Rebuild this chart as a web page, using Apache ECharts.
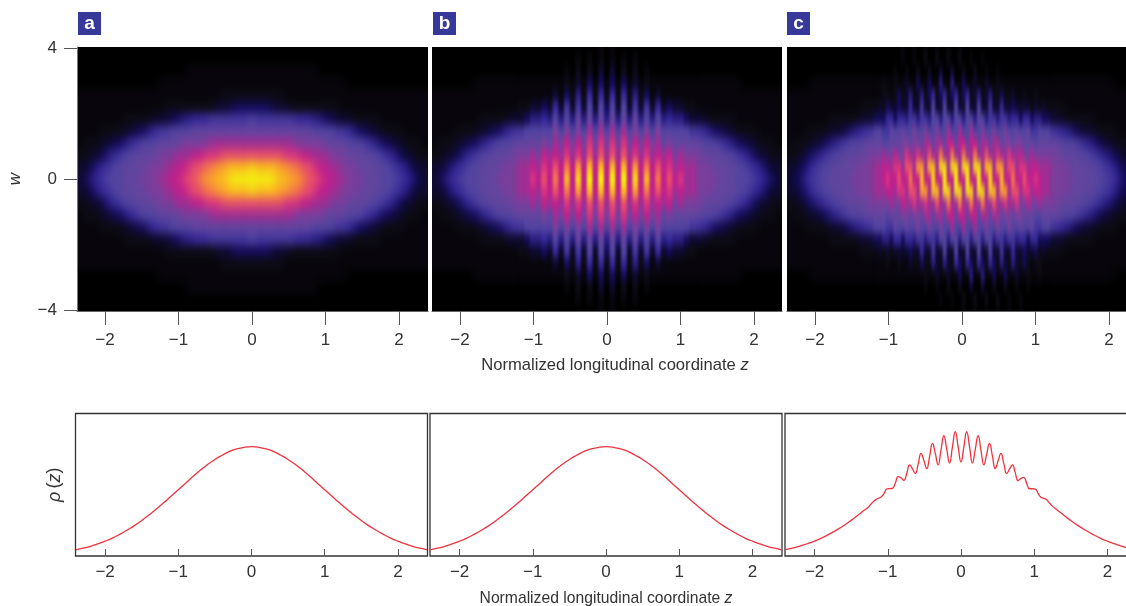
<!DOCTYPE html>
<html>
<head>
<meta charset="utf-8">
<script src="https://cdn.jsdelivr.net/npm/echarts@6/dist/echarts.min.js"></script>
<style>
html,body{margin:0;padding:0;background:#fff;overflow:hidden;width:1126px;height:606px;}
#main{width:1160px;height:606px;}
</style>
</head>
<body>
<svg width="0" height="0" style="position:absolute">
<filter id="broad" x="0" y="0" width="100%" height="100%" color-interpolation-filters="sRGB"><feGaussianBlur stdDeviation="3.5 5"/></filter>
<filter id="fine" x="0" y="0" width="100%" height="100%" color-interpolation-filters="sRGB"><feGaussianBlur stdDeviation="1.1 4"/></filter>
</svg>
<div id="main"></div>
<script>
// Brightness levels, one character per cell (base 36), centre row first, going up.
// a and b: half rows from z=0 outward (5.7 px cells).
const rowsA = [
"jjjjihhggfeedccbbaaa999888765433",
"ihhhhggffeedccbbaaa9999887654333",
"eeeeeedddccbbbaaa999988765433222",
"bbbbbbbbaaaaa9999888765443322211",
"99999999999888877654433222211111",
"87777777666554433322222111111111",
"44443332222222221111111111111111",
"22222211111111111111111111111111",
"11111111111111111000000000000000",
"11111111111100000000000000000000",
"00000000000000000000000000000000",
"00000000000000000000000000000000"
];
const rowsB = [
"clckcichcfcecdbbaaaa999888765433",
"chchcgcfcecdbcbbaaa9999887654333",
"bebebdbdbcbcabaaa999988765433222",
"adadacacab9a99999888765443322211",
"8b8b8a8a8a8888877654433222211111",
"59595958585655433322222111111111",
"48383737363433221111111111111111",
"26262524131111111111111111111111",
"14141312111111111111111100000000",
"03020201000000000000000000000000",
"01010100000000000000000000000000",
"01000000000000000000000000000000"
];
// c: full rows left to right (3.8 px cells), the lower half is the point reflection.
const rowsC = [
"333445677888999999aaaaaabb"+"cdcceccfcchccicckcclc"+"clcckccicchccfcceccdc"+"bbaaaaaa999999888776544333",
"3333445677888999999aaaaabb"+"ccbddbeebggbhhbiibiib"+"iibiibhhbggbeebddbccb"+"bbaaaaa9999998887765443333",
"2222334455677888999999aaaa"+"baacaadbbdbbebbfbbfbb"+"fbbfbbebbdbbdbbcaabaa"+"aaaa9999998887765544332222",
"11222223334455677888899999"+"88999aa9aa9bb9bb9cc9c"+"c9cc9bb9bb9aa9aa99989"+"99999888877655443332222211",
"11111122222233334455667788"+"77988988a88a88a88b88b"+"88b88a88a88a889889778"+"88776655443333222222111111",
"11111111111122222222333344"+"466466577577588588588"+"588588577577566466455"+"44333322222222111111111111",
"11111111111111111111222223"+"243343363373383383383"+"383383373363343333232"+"32222211111111111111111111",
"11111111111111111111111111"+"221242352352462462462"+"462352352242231121121"+"11111111111111111111111111",
"00000001111111111111111111"+"211211311411411511511"+"411311311211111111111"+"11111111111111111110000000",
"00000000000000000000000000"+"000100100200200300300"+"200200100100000000000"+"00000000000000000000000000",
"00000000000000000000000000"+"000001001002002002002"+"001001000000000000000"+"00000000000000000000000000",
"00000000000000000000000000"+"000001001001001001001"+"000000000000000000000"+"00000000000000000000000000"
];
const levelColors = ["#000000","#08060c","#0d0b14","#0e0a30","#140c5c","#2a1e84","#37299a","#43369c","#5345a0","#62459f","#7a3f9c","#a02e94","#c0208c","#d83480","#e8506a","#f4784a","#fa9c30","#fbbb20","#f8d818","#f5ee10","#f6f20c","#f8f408"];

// Line density profiles
const zPlain = [-2.4,-2.3,-2.2,-2.1,-2,-1.9,-1.8,-1.7,-1.6,-1.5,-1.4,-1.3,-1.2,-1.1,-1,-0.9,-0.8,-0.7,-0.6,-0.5,-0.4,-0.3,-0.2,-0.1,0,0.1,0.2,0.3,0.4,0.5,0.6,0.7,0.8,0.9,1,1.1,1.2,1.3,1.4,1.5,1.6,1.7,1.8,1.9,2,2.1,2.2,2.3,2.4];
const rhoA = [.043,.055,.068,.085,.104,.126,.152,.181,.213,.249,.288,.330,.373,.419,.465,.511,.558,.601,.642,.677,.707,.734,.752,.763,.767,.763,.752,.734,.707,.677,.642,.601,.558,.511,.465,.419,.373,.330,.288,.249,.213,.181,.152,.126,.104,.085,.068,.055,.043];
const rhoB = [.043,.055,.068,.085,.104,.126,.152,.181,.213,.249,.288,.330,.373,.419,.465,.511,.558,.601,.642,.677,.707,.734,.752,.763,.767,.763,.752,.734,.707,.677,.642,.601,.558,.511,.465,.419,.373,.330,.288,.249,.213,.181,.152,.126,.104,.085,.068,.055,.043];
const zC = [-2.4,-2.3,-2.2,-2.1,-2,-1.9,-1.8,-1.7,-1.6,-1.5,-1.4,-1.326,-1.287,-1.248,-1.209,-1.17,-1.131,-1.092,-1.053,-1.014,-0.975,-0.936,-0.897,-0.858,-0.819,-0.78,-0.741,-0.702,-0.663,-0.624,-0.585,-0.546,-0.507,-0.468,-0.429,-0.39,-0.351,-0.312,-0.273,-0.234,-0.195,-0.156,-0.117,-0.078,-0.039,0,0.039,0.078,0.117,0.156,0.195,0.234,0.273,0.312,0.351,0.39,0.429,0.468,0.507,0.546,0.585,0.624,0.663,0.702,0.741,0.78,0.819,0.858,0.897,0.936,0.975,1.014,1.053,1.092,1.131,1.17,1.209,1.248,1.287,1.326,1.4,1.5,1.6,1.7,1.8,1.9,2,2.1,2.2,2.3,2.4];
const rhoC = [.045,.056,.069,.086,.105,.127,.153,.182,.214,.250,.289,.320,.334,.353,.375,.394,.405,.414,.437,.470,.473,.475,.512,.557,.548,.531,.580,.639,.612,.580,.645,.720,.670,.613,.698,.791,.720,.639,.745,.844,.750,.652,.765,.872,.766,.660,.766,.872,.765,.652,.748,.844,.742,.639,.715,.791,.702,.613,.668,.720,.648,.580,.610,.639,.585,.529,.545,.552,.510,.472,.472,.470,.440,.412,.405,.395,.372,.350,.334,.318,.288,.249,.213,.181,.152,.126,.104,.085,.068,.055,.043];

const zTicks = [-2,-1,0,1,2];
const wTicks = [-4,0,4];
const panelLetters = ["a","b","c"];
const axisTitle = "Normalized longitudinal coordinate ";

function expandHalf(rows){
  const full = rows.map(r => r.split("").slice(1).reverse().join("") + r);
  return full.slice(1).reverse().concat(full);
}
function expandPoint(rows){
  const lower = rows.slice(1).map(r => r.split("").reverse().join(""));
  return rows.slice().reverse().concat(lower);
}
function cells(rows){
  const out = [];
  rows.forEach((r,y) => r.split("").forEach((c,x) => out.push([x,y,parseInt(c,36)])));
  return out;
}
const heatRows = [expandHalf(rowsA), expandHalf(rowsB), expandPoint(rowsC)];

const FONT = "'Liberation Sans',Arial,sans-serif";
const INK = "#333";
const TICK_SIZE = 17;
const TOP_LAYER = 2;
const fmt = v => String(v).replace("-", "\u2212");
const heatGeom = [
  {left:72.45, width:359.1},
  {left:427.45,width:359.1},
  {left:783.4, width:357.2}
];
const topGeom = [
  {left:77, width:351, min:-2.381, max:2.395},
  {left:432,width:350, min:-2.381, max:2.381},
  {left:787,width:351, min:-2.381, max:2.395}
];
const botGeom = [{left:75.5},{left:430},{left:785}];
// half-widths (in cells) of the fringe zone that is drawn sharper on the second layer
const fringeHalfWidth = [0,15,23];

const grid=[], xAxis=[], yAxis=[], series=[];
heatRows.forEach((rows,i)=>{
  grid.push({left:heatGeom[i].left,width:heatGeom[i].width,top:41.5,height:276,show:false,zlevel:0,outerBoundsMode:"none"});
  xAxis.push({type:"category",gridIndex:i,show:false,zlevel:0,data:rows[0].split("").map((_,k)=>k)});
  yAxis.push({type:"category",gridIndex:i,show:false,zlevel:0,inverse:true,data:rows.map((_,k)=>k)});
  const all = cells(rows);
  series.push({type:"heatmap",xAxisIndex:i,yAxisIndex:i,zlevel:0,progressive:0,animation:false,
    data:all,itemStyle:{borderWidth:0},emphasis:{disabled:true}});
  if(fringeHalfWidth[i]){
    const mid = (rows[0].length-1)/2;
    series.push({type:"heatmap",xAxisIndex:i,yAxisIndex:i,zlevel:1,progressive:0,animation:false,
      data:all.filter(c=>Math.abs(c[0]-mid)<=fringeHalfWidth[i]),itemStyle:{borderWidth:0},emphasis:{disabled:true}});
  }
});
topGeom.forEach((g,i)=>{
  grid.push({left:g.left,width:g.width,top:47,height:264,show:false,zlevel:TOP_LAYER,outerBoundsMode:"none"});
  xAxis.push({type:"value",gridIndex:3+i,min:g.min,max:g.max,zlevel:TOP_LAYER,position:"bottom",
    axisLine:{show:true,onZero:false,lineStyle:{color:"#666",width:1}},
    axisTick:{show:true,length:14,customValues:zTicks,lineStyle:{color:"#555",width:1}},
    axisLabel:{color:INK,fontFamily:FONT,fontSize:TICK_SIZE,margin:21,customValues:zTicks,formatter:fmt,showMinLabel:true,showMaxLabel:true},
    splitLine:{show:false},
    name:i===1?"{t|"+axisTitle+"}{i|z}":"",nameLocation:"middle",nameGap:46,
    nameTextStyle:{padding:[0,0,0,16],rich:{t:{fontFamily:FONT,fontSize:16.6,color:INK},i:{fontFamily:FONT,fontSize:16.6,fontStyle:"italic",color:INK}}}
  });
  yAxis.push({type:"value",gridIndex:3+i,min:-4.02,max:4.04,zlevel:TOP_LAYER,show:i===0,position:"left",
    axisLine:{show:true,onZero:false,lineStyle:{color:"#777",width:1}},
    axisTick:{show:true,length:13,customValues:wTicks,lineStyle:{color:"#555",width:1}},
    axisLabel:{color:INK,fontFamily:FONT,fontSize:TICK_SIZE,margin:20,customValues:wTicks,formatter:fmt,showMinLabel:true,showMaxLabel:true},
    splitLine:{show:false},
    name:"w",nameLocation:"middle",nameGap:53,nameRotate:90,
    nameTextStyle:{fontFamily:FONT,fontSize:17,fontStyle:"italic",color:INK}
  });
});
const lines = [[zPlain,rhoA],[zPlain,rhoB],[zC,rhoC]];
botGeom.forEach((g,i)=>{
  const idx = 6+i;
  grid.push({left:g.left,width:352,top:413.5,height:142.5,show:true,zlevel:TOP_LAYER,backgroundColor:"#fff",borderColor:"#333",borderWidth:1.3,outerBoundsMode:"none"});
  xAxis.push({type:"value",gridIndex:idx,min:-2.404,max:2.404,zlevel:TOP_LAYER,
    axisLine:{show:false,onZero:false},
    axisTick:{show:true,inside:true,length:7,customValues:zTicks,lineStyle:{color:"#555",width:1}},
    axisLabel:{color:INK,fontFamily:FONT,fontSize:TICK_SIZE,margin:8,customValues:zTicks,formatter:fmt,showMinLabel:true,showMaxLabel:true},
    splitLine:{show:false},
    name:i===1?"{t|"+axisTitle+"}{i|z}":"",nameLocation:"middle",nameGap:35,
    nameTextStyle:{rich:{t:{fontFamily:FONT,fontSize:15.7,color:INK},i:{fontFamily:FONT,fontSize:15.7,fontStyle:"italic",color:INK}}}
  });
  yAxis.push({type:"value",gridIndex:idx,min:0,max:1,zlevel:TOP_LAYER,show:i===0,
    axisLine:{show:false},axisTick:{show:false},axisLabel:{show:false},splitLine:{show:false},
    name:"{i|\u03c1} {n|(}{i|z}{n|)}",nameLocation:"middle",nameGap:12,nameRotate:90,
    nameTextStyle:{rich:{i:{fontFamily:FONT,fontSize:18,fontStyle:"italic",color:INK},n:{fontFamily:FONT,fontSize:18,color:INK}}}
  });
  series.push({type:"line",xAxisIndex:idx,yAxisIndex:idx,zlevel:TOP_LAYER,z:5,showSymbol:false,smooth:i===2?0.5:true,animation:false,
    lineStyle:{color:"#ee3340",width:1.3},
    data:lines[i][0].map((z,k)=>[z,lines[i][1][k]])});
});

const badges = [];
[78,433,787].forEach((x,i)=>{
  badges.push({type:"rect",zlevel:TOP_LAYER,shape:{x:x,y:12,width:23,height:23},style:{fill:"#37399a"}});
  badges.push({type:"text",zlevel:TOP_LAYER,z:3,x:x+11.5,y:23.5,style:{text:panelLetters[i],fill:"#fff",fontFamily:FONT,fontWeight:"bold",fontSize:19,align:"center",verticalAlign:"middle"}});
});

const chart = echarts.init(document.getElementById("main"),null,{renderer:"canvas"});
chart.setOption({
  animation:false,
  backgroundColor:"transparent",
  tooltip:{show:false},
  graphic:{elements:[
    {type:"rect",zlevel:0,z:-10,silent:true,shape:{x:50,y:25,width:1100,height:310},style:{fill:"#000"}}
  ].concat(badges)},
  visualMap:{show:false,type:"continuous",seriesIndex:[0,1,2,3,4],dimension:2,min:0,max:21,calculable:false,inRange:{color:levelColors}},
  grid:grid,xAxis:xAxis,yAxis:yAxis,series:series
});
const panelClip = "path('M77 47H428V311H77Z M432 47H782V311H432Z M787 47H1126V311H787Z')";
[["zr_0","broad"],["zr_1","fine"]].forEach(([id,f])=>{
  const cv = document.querySelector('#main canvas[data-zr-dom-id="'+id+'"]');
  if(cv){ cv.style.filter = "url(#"+f+")"; cv.style.clipPath = panelClip; }
});
</script>
</body>
</html>
